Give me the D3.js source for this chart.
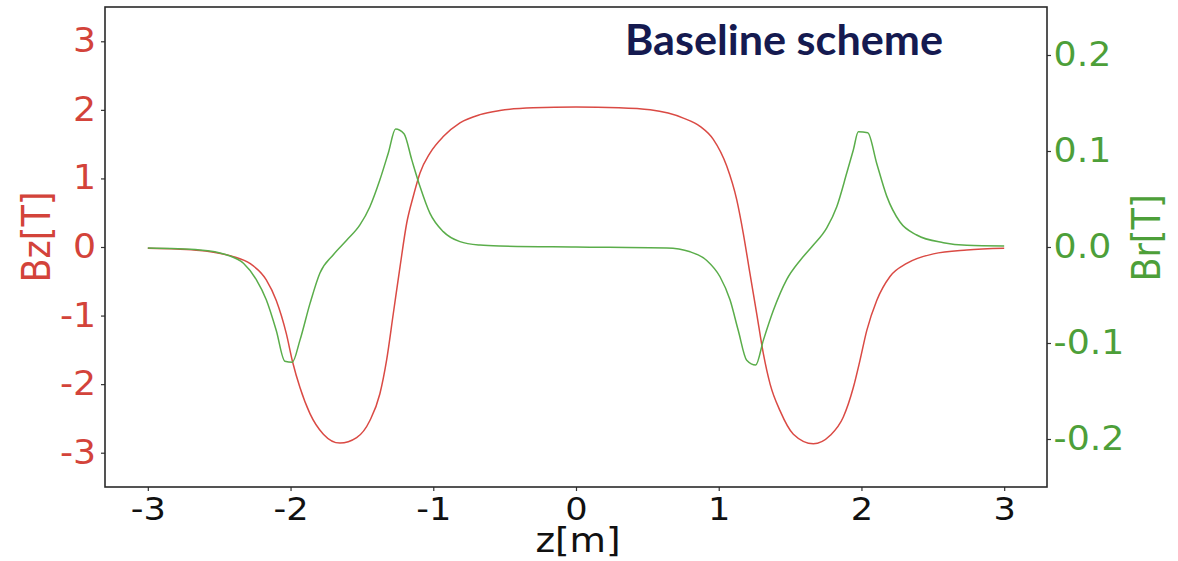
<!DOCTYPE html>
<html><head><meta charset="utf-8">
<script src="https://cdn.jsdelivr.net/npm/d3@7"></script>
<style>body{margin:0;background:#fff}svg{display:block}</style>
</head><body>
<svg id="c" width="1178" height="561"></svg>
<script>
// Bz (red, left axis)
const zBz = [-3.0,-2.8,-2.635,-2.5,-2.4,-2.285,-2.17,-2.10,-2.03,-1.985,-1.934,-1.864,-1.77,-1.654,-1.537,-1.444,-1.374,-1.327,-1.28,-1.233,-1.186,-1.14,-1.093,-1.023,-0.93,-0.813,-0.673,-0.533,-0.3,0,0.3,0.52,0.752,0.869,0.962,1.056,1.126,1.172,1.219,1.266,1.313,1.36,1.43,1.523,1.663,1.78,1.873,1.943,1.99,2.037,2.107,2.2,2.317,2.504,2.738,3.0];
const bz = [-0.02,-0.03,-0.05,-0.09,-0.14,-0.24,-0.48,-0.78,-1.26,-1.68,-2.05,-2.43,-2.73,-2.86,-2.78,-2.53,-2.14,-1.65,-0.97,-0.29,0.35,0.74,1.08,1.37,1.61,1.81,1.93,1.99,2.03,2.04,2.03,2.00,1.88,1.76,1.57,1.18,0.69,0.20,-0.39,-0.97,-1.56,-2.0,-2.39,-2.73,-2.87,-2.75,-2.48,-2.05,-1.65,-1.22,-0.78,-0.43,-0.24,-0.10,-0.044,-0.02];
// Br (green, right axis)
const zBr = [-3.0,-2.635,-2.45,-2.33,-2.24,-2.17,-2.10,-2.04,-1.988,-1.934,-1.864,-1.794,-1.70,-1.607,-1.514,-1.444,-1.374,-1.315,-1.264,-1.205,-1.151,-1.093,-1.023,-0.93,-0.813,-0.673,-0.533,0,0.636,0.80,0.916,1.009,1.079,1.137,1.196,1.259,1.313,1.383,1.476,1.57,1.663,1.757,1.827,1.897,1.943,1.978,2.044,2.107,2.177,2.27,2.387,2.574,2.738,3.0];
const br = [-0.001,-0.003,-0.008,-0.017,-0.034,-0.055,-0.087,-0.119,-0.120,-0.097,-0.059,-0.027,-0.008,0.007,0.023,0.042,0.070,0.098,0.123,0.118,0.091,0.063,0.035,0.016,0.0056,0.002,0.001,0.0,-0.001,-0.005,-0.014,-0.031,-0.055,-0.087,-0.118,-0.123,-0.097,-0.066,-0.034,-0.014,0.002,0.020,0.042,0.077,0.101,0.120,0.119,0.087,0.053,0.026,0.0125,0.0045,0.0018,0.001];
const xTicks = [-3,-2,-1,0,1,2,3];
const bzTicks = [-3,-2,-1,0,1,2,3];
const brTicks = [-0.2,-0.1,0.0,0.1,0.2];
const title = "Baseline scheme";

const RED_LINE = "#da4a44", GREEN_LINE = "#5aad4a";
const RED_TXT = "#d3433a", GREEN_TXT = "#4d9f39";
const L=105, R=1047, T=7, B=487;
const svg = d3.select("#c");
const x = d3.scaleLinear().domain([-3.3,3.3]).range([L,R]);
const yL = d3.scaleLinear().domain([-3.5,3.5]).range([B,T]);
const yR = d3.scaleLinear().domain([-0.25,0.25]).range([B,T]);
const SX = 1.1;

function styleAxis(g, color, size){
  g.select(".domain").remove();
  g.selectAll(".tick line").attr("stroke","#333").attr("stroke-width",1.2);
  g.selectAll(".tick text").attr("fill",color).attr("font-family","DejaVu Sans").attr("font-size",size);
}

// lines
const lineBz = d3.line().x((d,i)=>x(zBz[i])).y(d=>yL(d)).curve(d3.curveMonotoneX);
const lineBr = d3.line().x((d,i)=>x(zBr[i])).y(d=>yR(d)).curve(d3.curveMonotoneX);
svg.append("path").datum(bz).attr("d",lineBz).attr("fill","none").attr("stroke",RED_LINE).attr("stroke-width",1.5);
svg.append("path").datum(br).attr("d",lineBr).attr("fill","none").attr("stroke",GREEN_LINE).attr("stroke-width",1.5);

// axes
const gx = svg.append("g").attr("transform",`translate(0,${B})`)
  .call(d3.axisBottom(x).tickValues(xTicks).tickFormat(d=>d3.format("d")(d).replace("−","-")).tickSize(4).tickPadding(6));
styleAxis(gx,"#111",32);
gx.selectAll(".tick text").attr("transform",`scale(${SX},1)`);

const gl = svg.append("g").attr("transform",`translate(${L},0)`)
  .call(d3.axisLeft(yL).tickValues(bzTicks).tickFormat(d=>String(d)).tickSize(4).tickPadding(4));
styleAxis(gl,RED_TXT,33);
gl.selectAll(".tick text").attr("transform",`scale(${SX},1)`);

const gr = svg.append("g").attr("transform",`translate(${R},0)`)
  .call(d3.axisRight(yR).tickValues(brTicks).tickFormat(d=>d3.format(".1f")(d).replace("−","-")).tickSize(4).tickPadding(2));
styleAxis(gr,GREEN_TXT,33);
gr.selectAll(".tick text").attr("transform",`scale(${SX},1)`);

// frame
svg.append("rect").attr("x",L).attr("y",T).attr("width",R-L).attr("height",B-T)
  .attr("fill","none").attr("stroke","#2a2a2a").attr("stroke-width",1.6);

// axis labels
svg.append("text").attr("transform",`translate(50,237) scale(${SX},1) rotate(-90)`)
  .attr("text-anchor","middle").attr("font-family","DejaVu Sans").attr("font-size",35)
  .attr("fill",RED_TXT).text("Bz[T]");
svg.append("text").attr("transform",`translate(1160,238) scale(${SX},1) rotate(-90)`)
  .attr("text-anchor","middle").attr("font-family","DejaVu Sans").attr("font-size",35)
  .attr("fill",GREEN_TXT).text("Br[T]");
svg.append("text").attr("transform",`translate(578,552) scale(${SX},1)`)
  .attr("text-anchor","middle").attr("font-family","DejaVu Sans").attr("font-size",34)
  .attr("fill","#111").text("z[m]");

// title
svg.append("text").attr("x",625).attr("y",55).attr("font-family","Lato").attr("font-weight","bold")
  .attr("font-size",42).attr("fill","#151a50").attr("textLength",318).attr("lengthAdjust","spacingAndGlyphs")
  .text(title);
</script>
</body></html>
